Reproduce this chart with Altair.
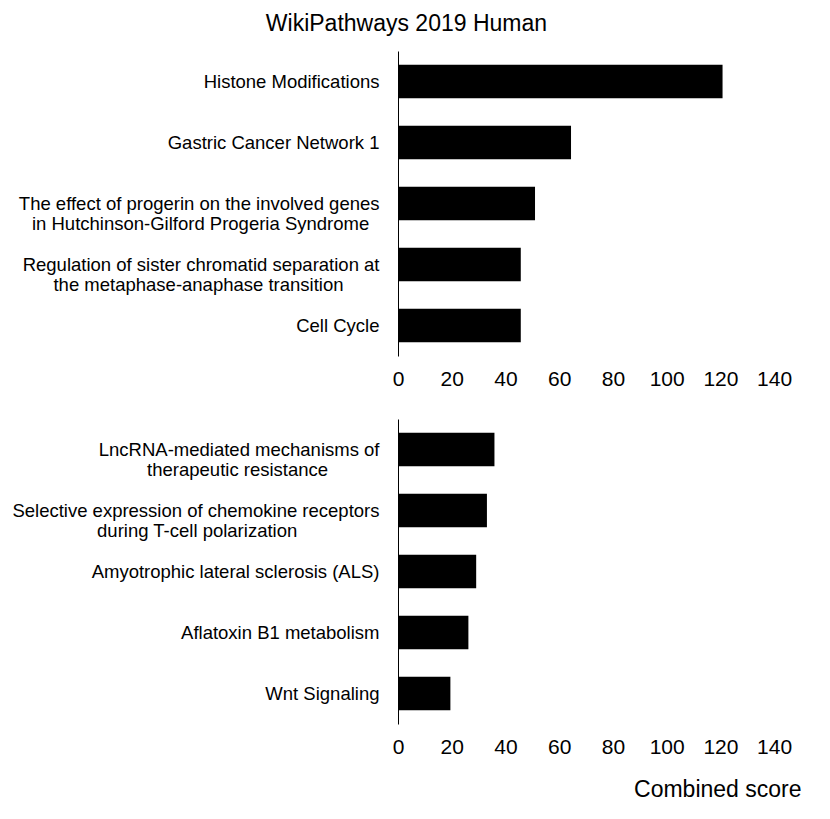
import altair as alt
import pandas as pd

# trailing non-breaking spaces centre the second line under the first
# (a zero-width space keeps them from being trimmed)
def pad(n):
    return "\u00a0" * n + "\u200b"

top_labels = [
    "Histone Modifications",
    "Gastric Cancer Network 1",
    "The effect of progerin on the involved genes\nin Hutchinson-Gilford Progeria Syndrome" + pad(2),
    "Regulation of sister chromatid separation at\nthe metaphase-anaphase transition" + pad(7),
    "Cell Cycle",
]
top_scores = [120.8, 64.4, 51.0, 45.7, 45.7]

bottom_labels = [
    "LncRNA-mediated mechanisms of\ntherapeutic resistance" + pad(10),
    "Selective expression of chemokine receptors\nduring T-cell polarization" + pad(16),
    "Amyotrophic lateral sclerosis (ALS)",
    "Aflatoxin B1 metabolism",
    "Wnt Signaling",
]
bottom_scores = [35.9, 33.1, 29.1, 26.2, 19.5]

x_ticks = [0, 20, 40, 60, 80, 100, 120, 140]

FONT = "Liberation Sans"


def panel(labels, scores, show_title):
    df = pd.DataFrame({"term": labels, "score": scores})
    x_axis = alt.Axis(
        values=x_ticks,
        domain=False,
        ticks=False,
        grid=False,
        labelFontSize=21,
        labelColor="black",
        labelPadding=12,
        labelFlush=False,
        title="Combined score" if show_title else None,
        titleFontSize=23,
        titleFontWeight="normal",
        titleColor="black",
        titleAnchor="end",
        titlePadding=21,
    )
    return (
        alt.Chart(df)
        .mark_bar(color="black")
        .encode(
            x=alt.X("score:Q", scale=alt.Scale(domain=[0, 150], nice=False), axis=x_axis),
            y=alt.Y(
                "term:N",
                sort=None,
                scale=alt.Scale(paddingInner=0.45, paddingOuter=0.225),
                axis=alt.Axis(
                    title=None,
                    ticks=False,
                    domain=True,
                    domainColor="black",
                    domainWidth=1,
                    labelFontSize=18.5,
                    labelColor="black",
                    labelLimit=0,
                    labelPadding=19,
                    labelLineHeight=20,
                    labelExpr="split(datum.label, '\\n')",
                ),
            ),
        )
        .properties(width=403, height=305)
    )


chart = (
    alt.vconcat(
        panel(top_labels, top_scores, False),
        panel(bottom_labels, bottom_scores, True),
        spacing=30,
    )
    .properties(
        title=alt.TitleParams(
            "WikiPathways 2019 Human",
            fontSize=23,
            fontWeight="normal",
            color="black",
            anchor="middle",
            offset=15,
        ),
        padding={"left": 3, "top": 5, "right": 5, "bottom": 5},
    )
    .configure(font=FONT)
    .configure_view(stroke=None)
)

chart.save("out.html", embed_options={"renderer": "svg", "actions": False})
